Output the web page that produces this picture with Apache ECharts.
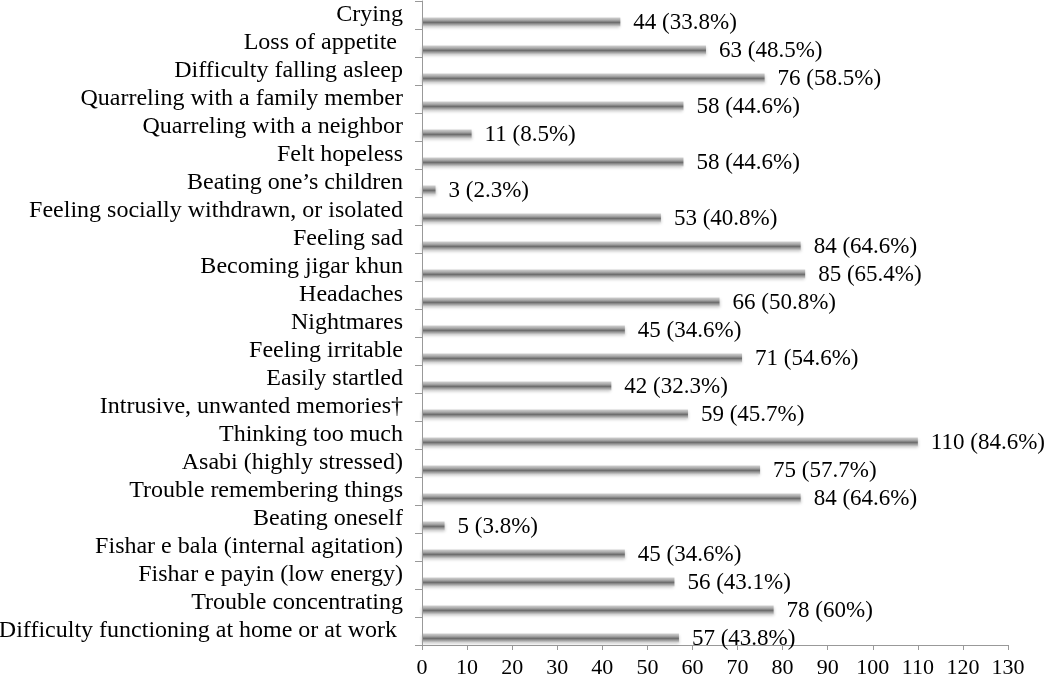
<!DOCTYPE html>
<html><head><meta charset="utf-8">
<script src="https://cdn.jsdelivr.net/npm/echarts@6/dist/echarts.min.js"></script>
<style>html,body{margin:0;padding:0;background:#fff}#c{width:1050px;height:680px}</style>
</head><body><div id="c"></div>
<script>
const categories = [
  "Crying","Loss of appetite ","Difficulty falling asleep","Quarreling with a family member",
  "Quarreling with a neighbor","Felt hopeless","Beating one\u2019s children",
  "Feeling socially withdrawn, or isolated","Feeling sad","Becoming jigar khun","Headaches",
  "Nightmares","Feeling irritable","Easily startled","Intrusive, unwanted memories\u2020",
  "Thinking too much","Asabi (highly stressed)","Trouble remembering things","Beating oneself",
  "Fishar e bala (internal agitation)","Fishar e payin (low energy)","Trouble concentrating",
  "Difficulty functioning at home or at work "
];
const counts = [44,63,76,58,11,58,3,53,84,85,66,45,71,42,59,110,75,84,5,45,56,78,57];
const percents = [33.8,48.5,58.5,44.6,8.5,44.6,2.3,40.8,64.6,65.4,50.8,34.6,54.6,32.3,45.7,84.6,57.7,64.6,3.8,34.6,43.1,60,43.8];
const xTicks = {min:0, max:130, interval:10};

const font = "'Liberation Serif','Times New Roman',serif";
const axisColor = '#999999';
const chart = echarts.init(document.getElementById('c'), null, {renderer:'canvas'});
chart.setOption({
  animation:false,
  backgroundColor:'#fff',
  grid:{left:422, right:42, top:1, bottom:35, containLabel:false, outerBoundsMode:'none'},
  xAxis:{type:'value', min:xTicks.min, max:xTicks.max, interval:xTicks.interval,
    axisLine:{show:true, onZero:false, lineStyle:{color:axisColor, width:1}},
    axisTick:{show:true, length:5, lineStyle:{color:axisColor}},
    splitLine:{show:false},
    axisLabel:{color:'#000', fontFamily:font, fontSize:22, margin:12, hideOverlap:false}},
  yAxis:{type:'category', data:categories, inverse:true, z:5,
    axisLine:{show:true, onZero:false, lineStyle:{color:axisColor, width:1}},
    axisTick:{show:true, inside:false, length:7, alignWithLabel:false, interval:0, lineStyle:{color:axisColor, width:1}},
    axisLabel:{color:'#000', fontFamily:font, fontSize:24, margin:19, interval:0, hideOverlap:false}},
  series:[
    {type:'bar', name:'spacer', data:counts.map(()=>0), barWidth:9, barGap:'55%', silent:true,
     itemStyle:{color:'rgba(0,0,0,0)'}},
    {type:'bar', name:'count', data:counts, barWidth:9,
     itemStyle:{color:new echarts.graphic.LinearGradient(0,0,0,1,[
       {offset:0,color:'#d2d2d2'},{offset:0.3,color:'#a8a8a8'},{offset:0.55,color:'#6c6c6c'},
       {offset:0.8,color:'#a6a6a6'},{offset:1,color:'#d4d4d4'}]),
       shadowColor:'rgba(0,0,0,0.22)', shadowBlur:3, shadowOffsetY:2},
     label:{show:true, position:'right', distance:13, offset:[0,1], color:'#000', fontFamily:font, fontSize:23,
       formatter:p=>counts[p.dataIndex]+' ('+percents[p.dataIndex]+'%)'}}
  ]
});
</script></body></html>
